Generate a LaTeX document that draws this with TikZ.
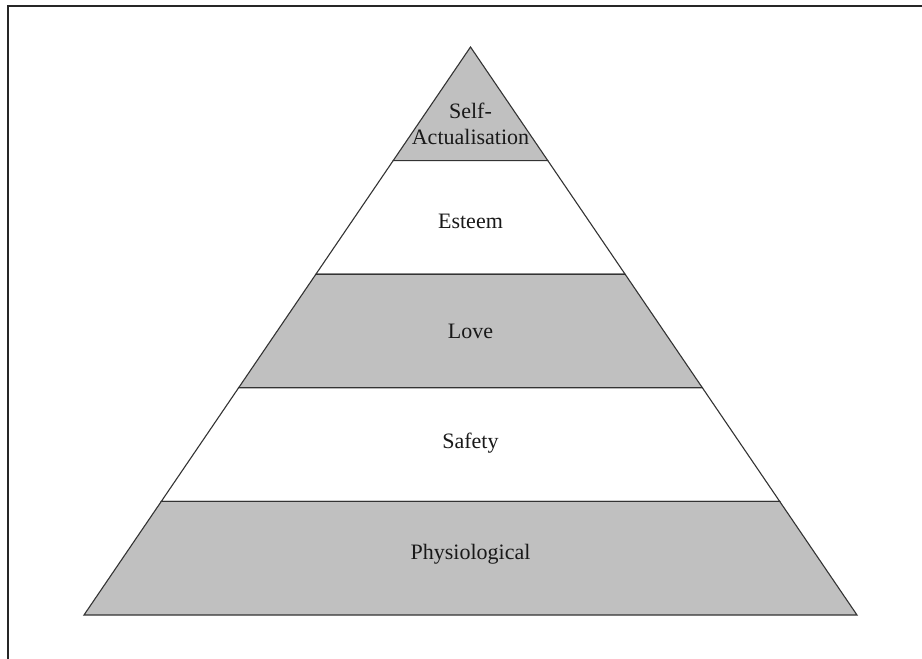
\documentclass[tikz,border=0pt]{standalone}
\usepackage{fontspec}
\setmainfont{Liberation Serif}
\usetikzlibrary{calc}
\begin{document}
\begin{tikzpicture}[x=1pt,y=-1pt,
  level/.style={draw=black!80,line width=1.1pt,line join=miter},
  shaded/.style={level,fill=levelgray},
  plain/.style={level,fill=white},
  label/.style={font=\fontsize{22}{26}\selectfont,text=black!90,inner sep=0pt,anchor=base}]
\definecolor{levelgray}{HTML}{C0C0C0}
\useasboundingbox (0,0) rectangle (922,659);
\fill[white] (0,0) rectangle (922,659);
% frame
\draw[black!85,line width=2pt] (8,670) -- (8,6) -- (930,6);
% pyramid corners
\coordinate (apex) at (470.5,47);
\coordinate (bl) at (84,615);
\coordinate (br) at (857,615);
\foreach \i [evaluate=\i as \f using \i/5] in {1,...,4}{
  \coordinate (l\i) at ($(apex)!\f!(bl)$);
  \coordinate (r\i) at ($(apex)!\f!(br)$);
}
% levels, top to bottom
\draw[shaded] (apex) -- (r1) -- (l1) -- cycle;
\draw[plain] (l1) -- (r1) -- (r2) -- (l2) -- cycle;
\draw[shaded] (l2) -- (r2) -- (r3) -- (l3) -- cycle;
\draw[plain] (l3) -- (r3) -- (r4) -- (l4) -- cycle;
\draw[shaded] (l4) -- (r4) -- (br) -- (bl) -- cycle;
% labels
\node[label] (self) at (470.5,118) {Self-};
\node[label] (act) at (470.5,144) {Actualisation};
\node[label] (esteem) at (470.5,228) {Esteem};
\node[label] (love) at (470.5,338) {Love};
\node[label] (safety) at (470.5,448) {Safety};
\node[label] (phys) at (470.5,559) {Physiological};
\end{tikzpicture}
\end{document}
